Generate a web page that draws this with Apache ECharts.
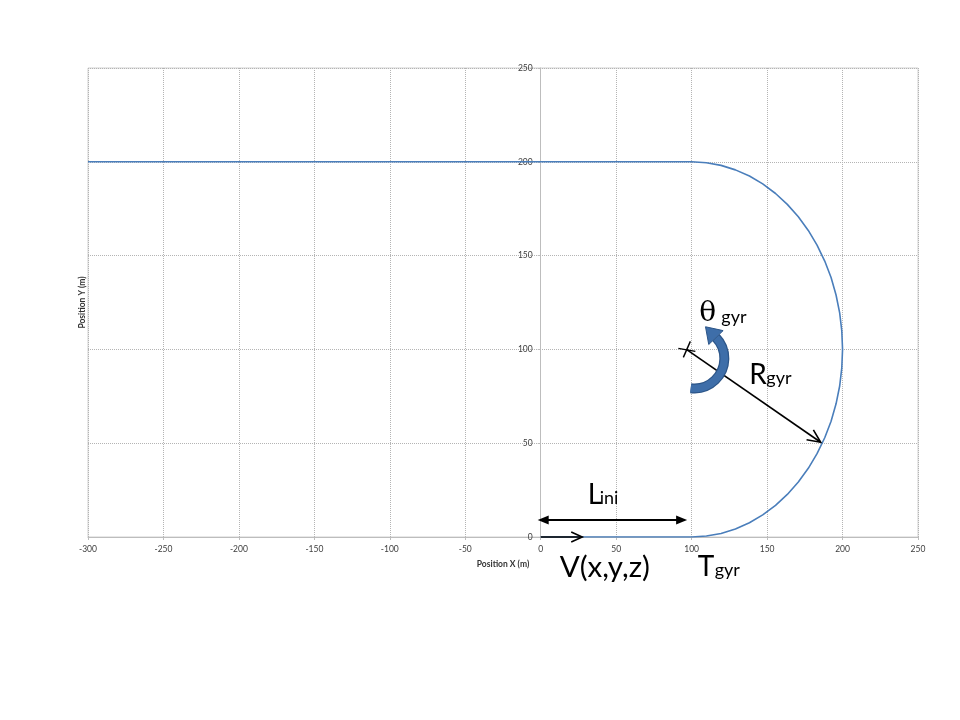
<!DOCTYPE html>
<html>
<head>
<meta charset="utf-8">
<script src="https://cdn.jsdelivr.net/npm/echarts@6/dist/echarts.min.js"></script>
<style>html,body{margin:0;padding:0;background:#fff;}#c{width:960px;height:720px;}</style>
</head>
<body>
<div id="c"></div>
<script>
// Trajectory points (Position X, Position Y in m)
const posX = [0, 100, 109.8, 119.5, 129.0, 138.3, 147.1, 155.6, 163.4, 170.7, 177.3, 183.1, 188.2, 192.4, 195.7, 198.1, 199.5, 200,
              199.5, 198.1, 195.7, 192.4, 188.2, 183.1, 177.3, 170.7, 163.4, 155.6, 147.1, 138.3, 129.0, 119.5, 109.8, 100, -300];
const posY = [0, 0, 0.5, 1.9, 4.3, 7.6, 11.8, 16.9, 22.7, 29.3, 36.6, 44.4, 52.9, 61.7, 71.0, 80.5, 90.2, 100,
              109.8, 119.5, 129.0, 138.3, 147.1, 155.6, 163.4, 170.7, 177.3, 183.1, 188.2, 192.4, 195.7, 198.1, 199.5, 200, 200];
const xTicks = [-300, -250, -200, -150, -100, -50, 0, 50, 100, 150, 200, 250];
const yTicks = [0, 50, 100, 150, 200, 250];
const xTitle = 'Position X (m)';
const yTitle = 'Position Y (m)';

(function () {
const chart = echarts.init(document.getElementById('c'), null, {renderer: 'canvas'});
const FONT = 'Lato, "Liberation Sans", sans-serif';
const gridStyle = {show: true, lineStyle: {color: '#b4b4b4', width: 1, type: [1, 1]}};
const GL = 88;

chart.setOption({
  animation: false,
  backgroundColor: '#ffffff',
  grid: {left: GL, right: 42, top: 68, bottom: 183, show: true, borderColor: '#d0d0d0', borderWidth: 1},
  xAxis: {
    type: 'value', min: xTicks[0], max: xTicks[xTicks.length - 1], interval: 50,
    axisLine: {onZero: false, lineStyle: {color: '#bdbdbd', width: 1}},
    axisTick: {show: true, length: 3, lineStyle: {color: '#bdbdbd'}},
    axisLabel: {fontSize: 8.5, color: '#404040', fontFamily: FONT, margin: 8},
    splitLine: gridStyle
  },
  yAxis: {
    type: 'value', min: yTicks[0], max: yTicks[yTicks.length - 1], interval: 50,
    axisLine: {onZero: false, lineStyle: {color: '#bdbdbd', width: 1}},
    axisTick: {show: true, length: 3, lineStyle: {color: '#bdbdbd'}},
    axisLabel: {fontSize: 8.5, color: '#404040', fontFamily: FONT, margin: 8},
    splitLine: gridStyle
  },
  series: [{
    type: 'line',
    data: posX.map((x, i) => [x, posY[i]]),
    showSymbol: false,
    symbol: 'none',
    smooth: false,
    lineStyle: {color: '#4a7ebb', width: 1.6},
    z: 3
  }]
});

function P(x, y) { return chart.convertToPixel({gridIndex: 0}, [x, y]); }
// place the y axis on x = 0
chart.setOption({yAxis: {offset: -(P(0, 0)[0] - GL)}});

function openHead(from, to, len, half) {
  const dx = to[0] - from[0], dy = to[1] - from[1];
  const L = Math.hypot(dx, dy), ux = dx / L, uy = dy / L;
  const bx = to[0] - ux * len, by = to[1] - uy * len;
  return [[bx - uy * half, by + ux * half], to, [bx + uy * half, by - ux * half]];
}

const g = [];
const black = '#000000';
// Axis titles
const leftPt = P(-300, 0), origin = P(0, 0), topPt = P(0, 250);
g.push({type: 'text', x: 503, y: origin[1] + 27, style: {text: xTitle, font: 'bold 8.5px ' + FONT, fill: '#333', align: 'center', verticalAlign: 'middle'}});
g.push({type: 'text', x: leftPt[0] - 6, y: (origin[1] + topPt[1]) / 2, rotation: Math.PI / 2, style: {text: yTitle, font: 'bold 8.5px ' + FONT, fill: '#333', align: 'center', verticalAlign: 'middle'}});

// L_ini double arrow
const la = P(-2, 9), lb = P(97, 9);
g.push({type: 'line', shape: {x1: la[0] + 8, y1: la[1], x2: lb[0] - 8, y2: lb[1]}, style: {stroke: black, lineWidth: 2}, z: 10});
g.push({type: 'polygon', shape: {points: openHead(lb, la, 11, 4.5)}, style: {fill: black}, z: 10});
g.push({type: 'polygon', shape: {points: openHead(la, lb, 11, 4.5)}, style: {fill: black}, z: 10});
g.push({type: 'text', x: la[0] + 50, y: la[1] - 11, style: {text: 'L', font: '28px ' + FONT, fill: black, align: 'left', verticalAlign: 'bottom'}, z: 10});
g.push({type: 'text', x: la[0] + 62, y: la[1] - 13, style: {text: 'ini', font: '18px ' + FONT, fill: black, align: 'left', verticalAlign: 'bottom'}, z: 10});

// V arrow
const va = P(0, 0), vb = P(27.5, 0);
g.push({type: 'line', shape: {x1: va[0], y1: va[1], x2: vb[0], y2: vb[1]}, style: {stroke: black, lineWidth: 1.6}, z: 10});
g.push({type: 'polyline', shape: {points: openHead(va, vb, 11, 5)}, style: {stroke: black, lineWidth: 1.6, fill: null}, z: 10});
g.push({type: 'text', x: va[0] + 19, y: va[1] + 45, style: {text: 'V(x,y,z)', font: '29.5px ' + FONT, fill: black, align: 'left', verticalAlign: 'bottom'}, z: 10});

// T_gyr
const tg = P(100, 0);
g.push({type: 'text', x: tg[0] + 6, y: tg[1] + 44, style: {text: 'T', font: '28px ' + FONT, fill: black, align: 'left', verticalAlign: 'bottom'}, z: 10});
g.push({type: 'text', x: tg[0] + 23, y: tg[1] + 42, style: {text: 'gyr', font: '18px ' + FONT, fill: black, align: 'left', verticalAlign: 'bottom'}, z: 10});

// Centre cross and R_gyr arrow
const c = P(96.5, 100), re = P(185.5, 50.5);
g.push({type: 'line', shape: {x1: c[0] - 8, y1: c[1] - 1, x2: c[0] + 9, y2: c[1] + 2}, style: {stroke: black, lineWidth: 1.4}, z: 10});
g.push({type: 'line', shape: {x1: c[0] - 3, y1: c[1] + 8, x2: c[0] + 4, y2: c[1] - 8}, style: {stroke: black, lineWidth: 1.4}, z: 10});
g.push({type: 'line', shape: {x1: c[0], y1: c[1], x2: re[0], y2: re[1]}, style: {stroke: black, lineWidth: 1.6}, z: 10});
g.push({type: 'polyline', shape: {points: openHead(c, re, 13, 6)}, style: {stroke: black, lineWidth: 1.6, fill: null}, z: 10});
g.push({type: 'text', x: c[0] + 63, y: c[1] + 40, style: {text: 'R', font: '28px ' + FONT, fill: black, align: 'left', verticalAlign: 'bottom'}, z: 10});
g.push({type: 'text', x: c[0] + 80, y: c[1] + 38, style: {text: 'gyr', font: '18px ' + FONT, fill: black, align: 'left', verticalAlign: 'bottom'}, z: 10});

// theta_gyr curved arrow
const ac = [c[0] + 8, c[1] + 9];
const R = 30;
const a0 = 97 * Math.PI / 180, a1 = -44 * Math.PI / 180;
g.push({type: 'arc', shape: {cx: ac[0], cy: ac[1], r: R, startAngle: a1, endAngle: a0, clockwise: true}, style: {stroke: '#2c5588', lineWidth: 10, fill: null, lineCap: 'butt'}, z: 10});
g.push({type: 'arc', shape: {cx: ac[0], cy: ac[1], r: R, startAngle: a1, endAngle: a0, clockwise: true}, style: {stroke: '#3e6ea9', lineWidth: 7.5, fill: null, lineCap: 'butt'}, z: 11});
const endPt = [ac[0] + R * Math.cos(a1), ac[1] + R * Math.sin(a1)];
const tang = [Math.sin(a1), -Math.cos(a1)];
const tip = [endPt[0] + tang[0] * 15, endPt[1] + tang[1] * 15];
const nrm = [-tang[1], tang[0]];
g.push({type: 'polygon', shape: {points: [tip, [endPt[0] + nrm[0] * 10, endPt[1] + nrm[1] * 10], [endPt[0] - nrm[0] * 10, endPt[1] - nrm[1] * 10]]}, style: {fill: '#3e6ea9', stroke: '#2c5588', lineWidth: 1}, z: 12});
g.push({type: 'text', x: c[0] + 13, y: c[1] - 22, style: {text: 'θ', font: '28px "DejaVu Serif", serif', fill: black, align: 'left', verticalAlign: 'bottom'}, z: 10});
g.push({type: 'text', x: c[0] + 35, y: c[1] - 23, style: {text: 'gyr', font: '18px ' + FONT, fill: black, align: 'left', verticalAlign: 'bottom'}, z: 10});

chart.setOption({graphic: g});
})();
</script>
</body>
</html>
